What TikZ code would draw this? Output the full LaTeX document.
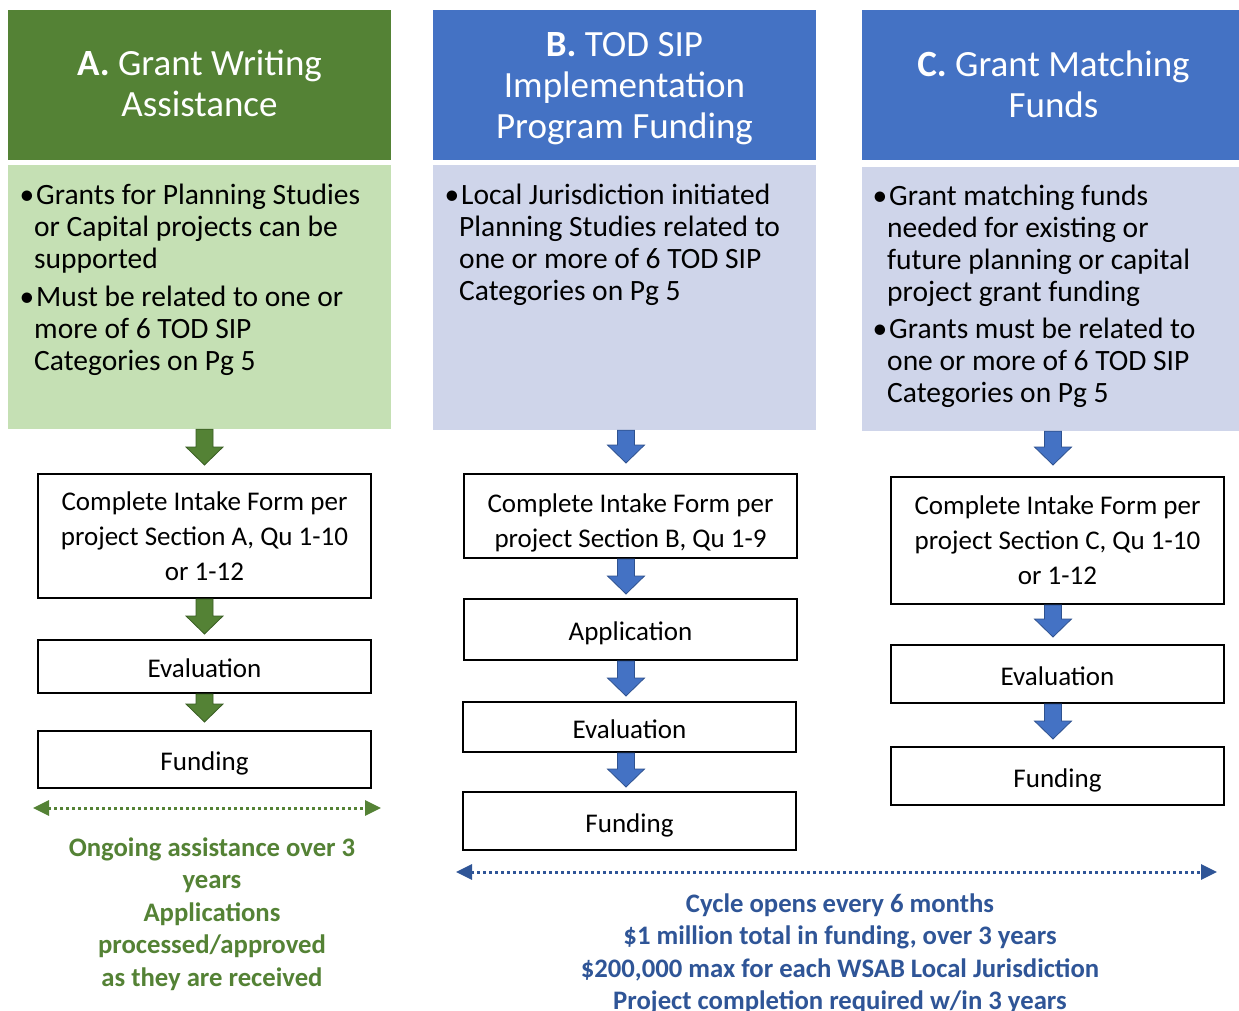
\documentclass[tikz,border=0pt]{standalone}
\usepackage{fontspec}
\setmainfont{Carlito}
\usetikzlibrary{calc,arrows.meta}
\definecolor{gA}{HTML}{548235}
\definecolor{gAlight}{HTML}{C5E0B4}
\definecolor{bB}{HTML}{4472C4}
\definecolor{bBlight}{HTML}{CFD5EA}
\definecolor{gborder}{HTML}{3A5E24}
\definecolor{bborder}{HTML}{2F528F}
\definecolor{btext}{HTML}{2F5597}
\tikzset{
  header/.style={fill=#1, draw=none, inner sep=0pt},
  titletext/.style={text=white, align=center, inner sep=0pt,
    font=\fontsize{37}{41}\selectfont},
  bodybox/.style={fill=#1, draw=none, inner sep=0pt},
  stepbox/.style={draw=black, line width=2pt, fill=white, align=center, inner sep=0pt,
    minimum width=333pt, font=\fontsize{27}{35}\selectfont},
  oneline/.style={text height=22pt, text depth=0pt},
  steptext/.style={align=center, inner sep=0pt, font=\fontsize{27}{35}\selectfont},
  bodytext/.style={anchor=north west, align=left, inner sep=0pt, text=black,
    font=\fontsize{29.5}{32}\selectfont},
  notetext/.style={align=center, inner sep=0pt, text=#1,
    font=\bfseries\fontsize{26.7}{32.5}\selectfont},
  greenarrow/.style={fill=gA, draw=gborder, line width=0.8pt},
  bluearrow/.style={fill=bB, draw=bborder, line width=0.8pt},
  dotarrow/.style={draw=#1, line width=3pt, dash pattern=on 3pt off 3pt,
    {Triangle[length=16pt,width=15pt,fill=#1]}-{Triangle[length=16pt,width=15pt,fill=#1]}},
}
% block arrow: style, column coordinate, from node, to node, gap above target
\newcommand\blockarr[5]{%
  \path[#1] let \p0=(#2), \p1=(#3.south), \p2=(#4.north) in
    (\x0-8.5pt,\y1) -- (\x0+8.5pt,\y1) -- (\x0+8.5pt,\y2+#5pt+18pt)
    -- (\x0+18.5pt,\y2+#5pt+18pt) -- (\x0,\y2+#5pt)
    -- (\x0-18.5pt,\y2+#5pt+18pt) -- (\x0-8.5pt,\y2+#5pt+18pt) -- cycle;}
\begin{document}
\begin{tikzpicture}[x=1pt, y=-1pt]
\path[use as bounding box, fill=white] (0,0) rectangle (1239,1011);

% column reference coordinates
\coordinate (colA) at (204.5,0);
\coordinate (colB) at (626,0);
\coordinate (colC) at (1053,0);

% headers
\node[header=gA, minimum width=383pt, minimum height=150pt] (hA) at (199.5,85) {};
\node[header=bB, minimum width=383pt, minimum height=150pt] (hB) at (624.5,85) {};
\node[header=bB, minimum width=377pt, minimum height=150pt] (hC) at (1050.5,85) {};
\node[titletext] (ttlA) at ($(hA.center)+(0,-1.5)$) {\textbf{A.} Grant Writing\\Assistance};
\node[titletext] (ttlB) at ($(hB.center)+(0,4)$) {\textbf{B.} TOD SIP\\Implementation\\Program Funding};
\node[titletext] (ttlC) at ($(hC.center)+(3,-1)$) {\textbf{C.} Grant Matching\\Funds};

% body boxes
\node[bodybox=gAlight, minimum width=383pt, minimum height=264pt] (bA) at (199.5,297) {};
\node[bodybox=bBlight, minimum width=383pt, minimum height=265pt] (bB) at (624.5,297.5) {};
\node[bodybox=bBlight, minimum width=377pt, minimum height=264pt] (bC) at (1050.5,299) {};

% body texts
\node[bodytext] (tA) at (34,181.4)
  {\strut\llap{•}\hspace{2pt}Grants for Planning Studies\\
   or Capital projects can be\\
   supported\\[6pt]
   \llap{•}\hspace{2pt}Must be related to one or\\
   more of 6 TOD SIP\\
   Categories on Pg 5};
\node[bodytext] (tB) at (459,181.4)
  {\strut\llap{•}\hspace{2pt}Local Jurisdiction initiated\\
   Planning Studies related to\\
   one or more of 6 TOD SIP\\
   Categories on Pg 5};
\node[bodytext] (tC) at (887,183.2)
  {\strut\llap{•}\hspace{2pt}Grant matching funds\\
   needed for existing or\\
   future planning or capital\\
   project grant funding\\[5pt]
   \llap{•}\hspace{2pt}Grants must be related to\\
   one or more of 6 TOD SIP\\
   Categories on Pg 5};

% step boxes column A
\node[stepbox, minimum height=124pt] (a1) at (204.5,536)
  {Complete Intake Form per\\project Section A, Qu 1-10\\or 1-12};
\node[stepbox, oneline, minimum height=53pt] (a2) at (204.5,666.5) {Evaluation};
\node[stepbox, oneline, minimum height=57pt] (a3) at (204.5,759.5) {Funding};

% step boxes column B
\node[stepbox, minimum height=84pt] (b1) at (630.5,516) {};
\node[steptext] (b1t) at ($(b1.center)+(0,6.5)$)
  {Complete Intake Form per\\project Section B, Qu 1-9};
\node[stepbox, oneline, minimum height=61pt] (b2) at (630.5,629.5) {Application};
\node[stepbox, oneline, minimum height=50pt] (b3) at (629.5,727) {Evaluation};
\node[stepbox, oneline, minimum height=58pt] (b4) at (629.5,821) {Funding};

% step boxes column C
\node[stepbox, minimum height=127pt] (c1) at (1057.5,540.5)
  {Complete Intake Form per\\project Section C, Qu 1-10\\or 1-12};
\node[stepbox, oneline, minimum height=58pt] (c2) at (1057.5,674) {Evaluation};
\node[stepbox, oneline, minimum height=58pt] (c3) at (1057.5,776) {Funding};

% block arrows
\blockarr{greenarrow}{colA}{bA}{a1}{8}
\blockarr{greenarrow}{colA}{a1}{a2}{5}
\blockarr{greenarrow}{colA}{a2}{a3}{8}
\blockarr{bluearrow}{colB}{bB}{b1}{10}
\blockarr{bluearrow}{colB}{b1}{b2}{4}
\blockarr{bluearrow}{colB}{b2}{b3}{5}
\blockarr{bluearrow}{colB}{b3}{b4}{4}
\blockarr{bluearrow}{colC}{bC}{c1}{11}
\blockarr{bluearrow}{colC}{c1}{c2}{7}
\blockarr{bluearrow}{colC}{c2}{c3}{7}

% dotted span arrows
\coordinate (gL) at (33,808);
\coordinate (gR) at (381,808);
\draw[dotarrow=gA] (gL) -- (gR);
\coordinate (bL) at (456,872);
\coordinate (bR) at (1217,872);
\draw[dotarrow=btext] (bL) -- (bR);

% notes
\node[notetext=gA] (nA) at (212,914.5)
  {\strut Ongoing assistance over 3\\years\\Applications\\processed/approved\\as they are received\strut};
\node[notetext=btext] (nB) at (840,954.5)
  {\strut Cycle opens every 6 months\\\$1 million total in funding, over 3 years\\\$200,000 max for each WSAB Local Jurisdiction\\Project completion required w/in 3 years\strut};
\end{tikzpicture}
\end{document}
